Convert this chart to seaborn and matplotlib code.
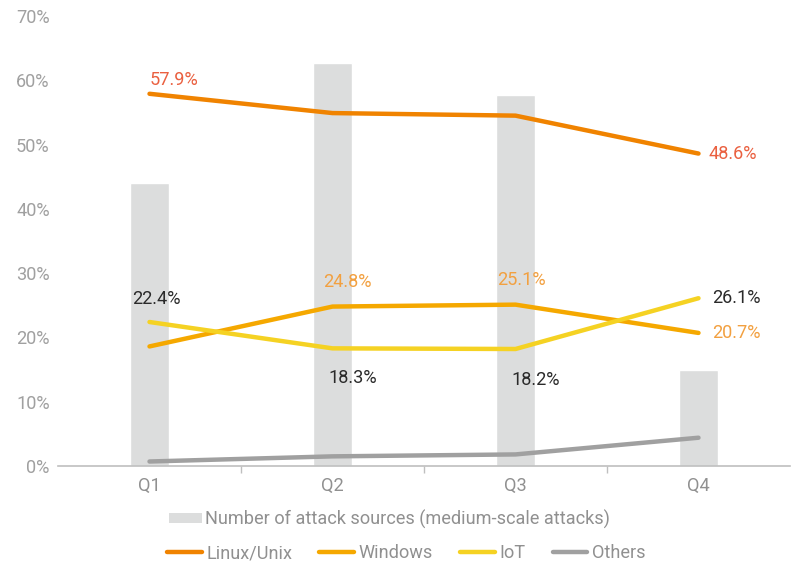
import numpy as np
import pandas as pd
import matplotlib
matplotlib.use("Agg")
import matplotlib.pyplot as plt
from matplotlib.lines import Line2D
from matplotlib.patches import Patch
import seaborn as sns

quarters = ["Q1", "Q2", "Q3", "Q4"]
attack_sources = [44.0, 62.7, 57.7, 14.9]
linux_unix = [57.9, 54.9, 54.5, 48.6]
windows = [18.6, 24.8, 25.1, 20.7]
iot = [22.4, 18.3, 18.2, 26.1]
others = [0.7, 1.5, 1.8, 4.4]
y_ticks = [0, 10, 20, 30, 40, 50, 60, 70]

sns.set_theme(style="white")
plt.rcParams["font.family"] = ["Roboto", "DejaVu Sans"]
plt.rcParams["font.weight"] = "normal"

FS = 13.1

fig = plt.figure(figsize=(7.95, 5.75), dpi=100)
ax = fig.add_axes([58 / 795, 1 - 466 / 575, (790 - 58) / 795, (466 - 16) / 575])

bar_color = "#DCDDDD"
c_linux = "#F08300"
c_win = "#F5A800"
c_iot = "#F5D223"
c_oth = "#A0A0A0"

bars_df = pd.DataFrame({"quarter": quarters, "value": attack_sources})
sns.barplot(data=bars_df, x="quarter", y="value", color=bar_color,
            width=0.21, saturation=1, ax=ax, zorder=1)

pos = np.arange(len(quarters))
series = [
    ("Linux/Unix", linux_unix, c_linux),
    ("Windows", windows, c_win),
    ("IoT", iot, c_iot),
    ("Others", others, c_oth),
]
for name, vals, col in series:
    sns.lineplot(x=pos, y=vals, color=col, linewidth=3.2, ax=ax,
                 solid_capstyle="round", solid_joinstyle="round", zorder=3)

# value labels
lab_kw = dict(fontsize=FS)
red_lab = "#EA6040"
win_lab = "#F2A040"
dark = "#2A2A2A"
ax.text(pos[0], linux_unix[0] + 0.7, f"{linux_unix[0]}%", color=red_lab, ha="left", va="bottom", **lab_kw)
ax.text(pos[3] + 0.055, linux_unix[3], f"{linux_unix[3]}%", color=red_lab, ha="left", va="center", **lab_kw)
ax.text(pos[1] + 0.08, windows[1] + 2.4, f"{windows[1]}%", color=win_lab, ha="center", va="bottom", **lab_kw)
ax.text(pos[2] + 0.03, windows[2] + 2.4, f"{windows[2]}%", color=win_lab, ha="center", va="bottom", **lab_kw)
ax.text(pos[3] + 0.075, windows[3], f"{windows[3]}%", color=win_lab, ha="left", va="center", **lab_kw)
ax.text(pos[3] + 0.075, iot[3], f"{iot[3]}%", color=dark, ha="left", va="center", **lab_kw)
ax.text(pos[0] + 0.04, iot[0] + 2.1, f"{iot[0]}%", color=dark, ha="center", va="bottom", **lab_kw)
ax.text(pos[1] + 0.11, iot[1] - 3.2, f"{iot[1]}%", color=dark, ha="center", va="top", **lab_kw)
ax.text(pos[2] + 0.11, iot[2] - 3.4, f"{iot[2]}%", color=dark, ha="center", va="top", **lab_kw)

ax.set_xlim(-0.5, 3.5)
ax.set_ylim(0, 70)
ax.set_yticks(y_ticks)
ax.set_yticklabels([f"{t}%" for t in y_ticks], color="#A0A0A0", fontsize=FS)
ax.set_xticks(pos)
ax.set_xticklabels(quarters, color="#909090", fontsize=FS)
ax.set_xticks([0.5, 1.5, 2.5], minor=True)
ax.tick_params(axis="x", which="major", length=0, pad=8)
ax.tick_params(axis="x", which="minor", length=5, width=1, color="#BFBFBF", direction="out", bottom=True)
ax.tick_params(axis="y", length=0, pad=6)
ax.set_xlabel("")
ax.set_ylabel("")
for s in ["top", "right", "left"]:
    ax.spines[s].set_visible(False)
ax.spines["bottom"].set_color("#BFBFBF")
ax.spines["bottom"].set_linewidth(1.2)
ax.grid(False)

leg_text = "#909090"
leg1 = fig.legend(handles=[Patch(facecolor=bar_color, edgecolor="none")],
                  labels=["Number of attack sources (medium-scale attacks)"],
                  loc="center left", bbox_to_anchor=(169 / 795, 1 - 519 / 575),
                  frameon=False, fontsize=FS, handlelength=1.8, handleheight=0.45,
                  handletextpad=0.2, labelcolor=leg_text, borderpad=0, borderaxespad=0)
line_handles = [Line2D([0], [0], color=c, linewidth=3.2, solid_capstyle="round") for _, _, c in series]
leg2 = fig.legend(handles=line_handles, labels=[n for n, _, _ in series],
                  loc="center left", bbox_to_anchor=(167 / 795, 1 - 553 / 575),
                  ncol=4, frameon=False, fontsize=FS, handlelength=1.9,
                  handletextpad=0.25, columnspacing=1.5, labelcolor=leg_text,
                  borderpad=0, borderaxespad=0)

fig.savefig("out.png", dpi=100)
